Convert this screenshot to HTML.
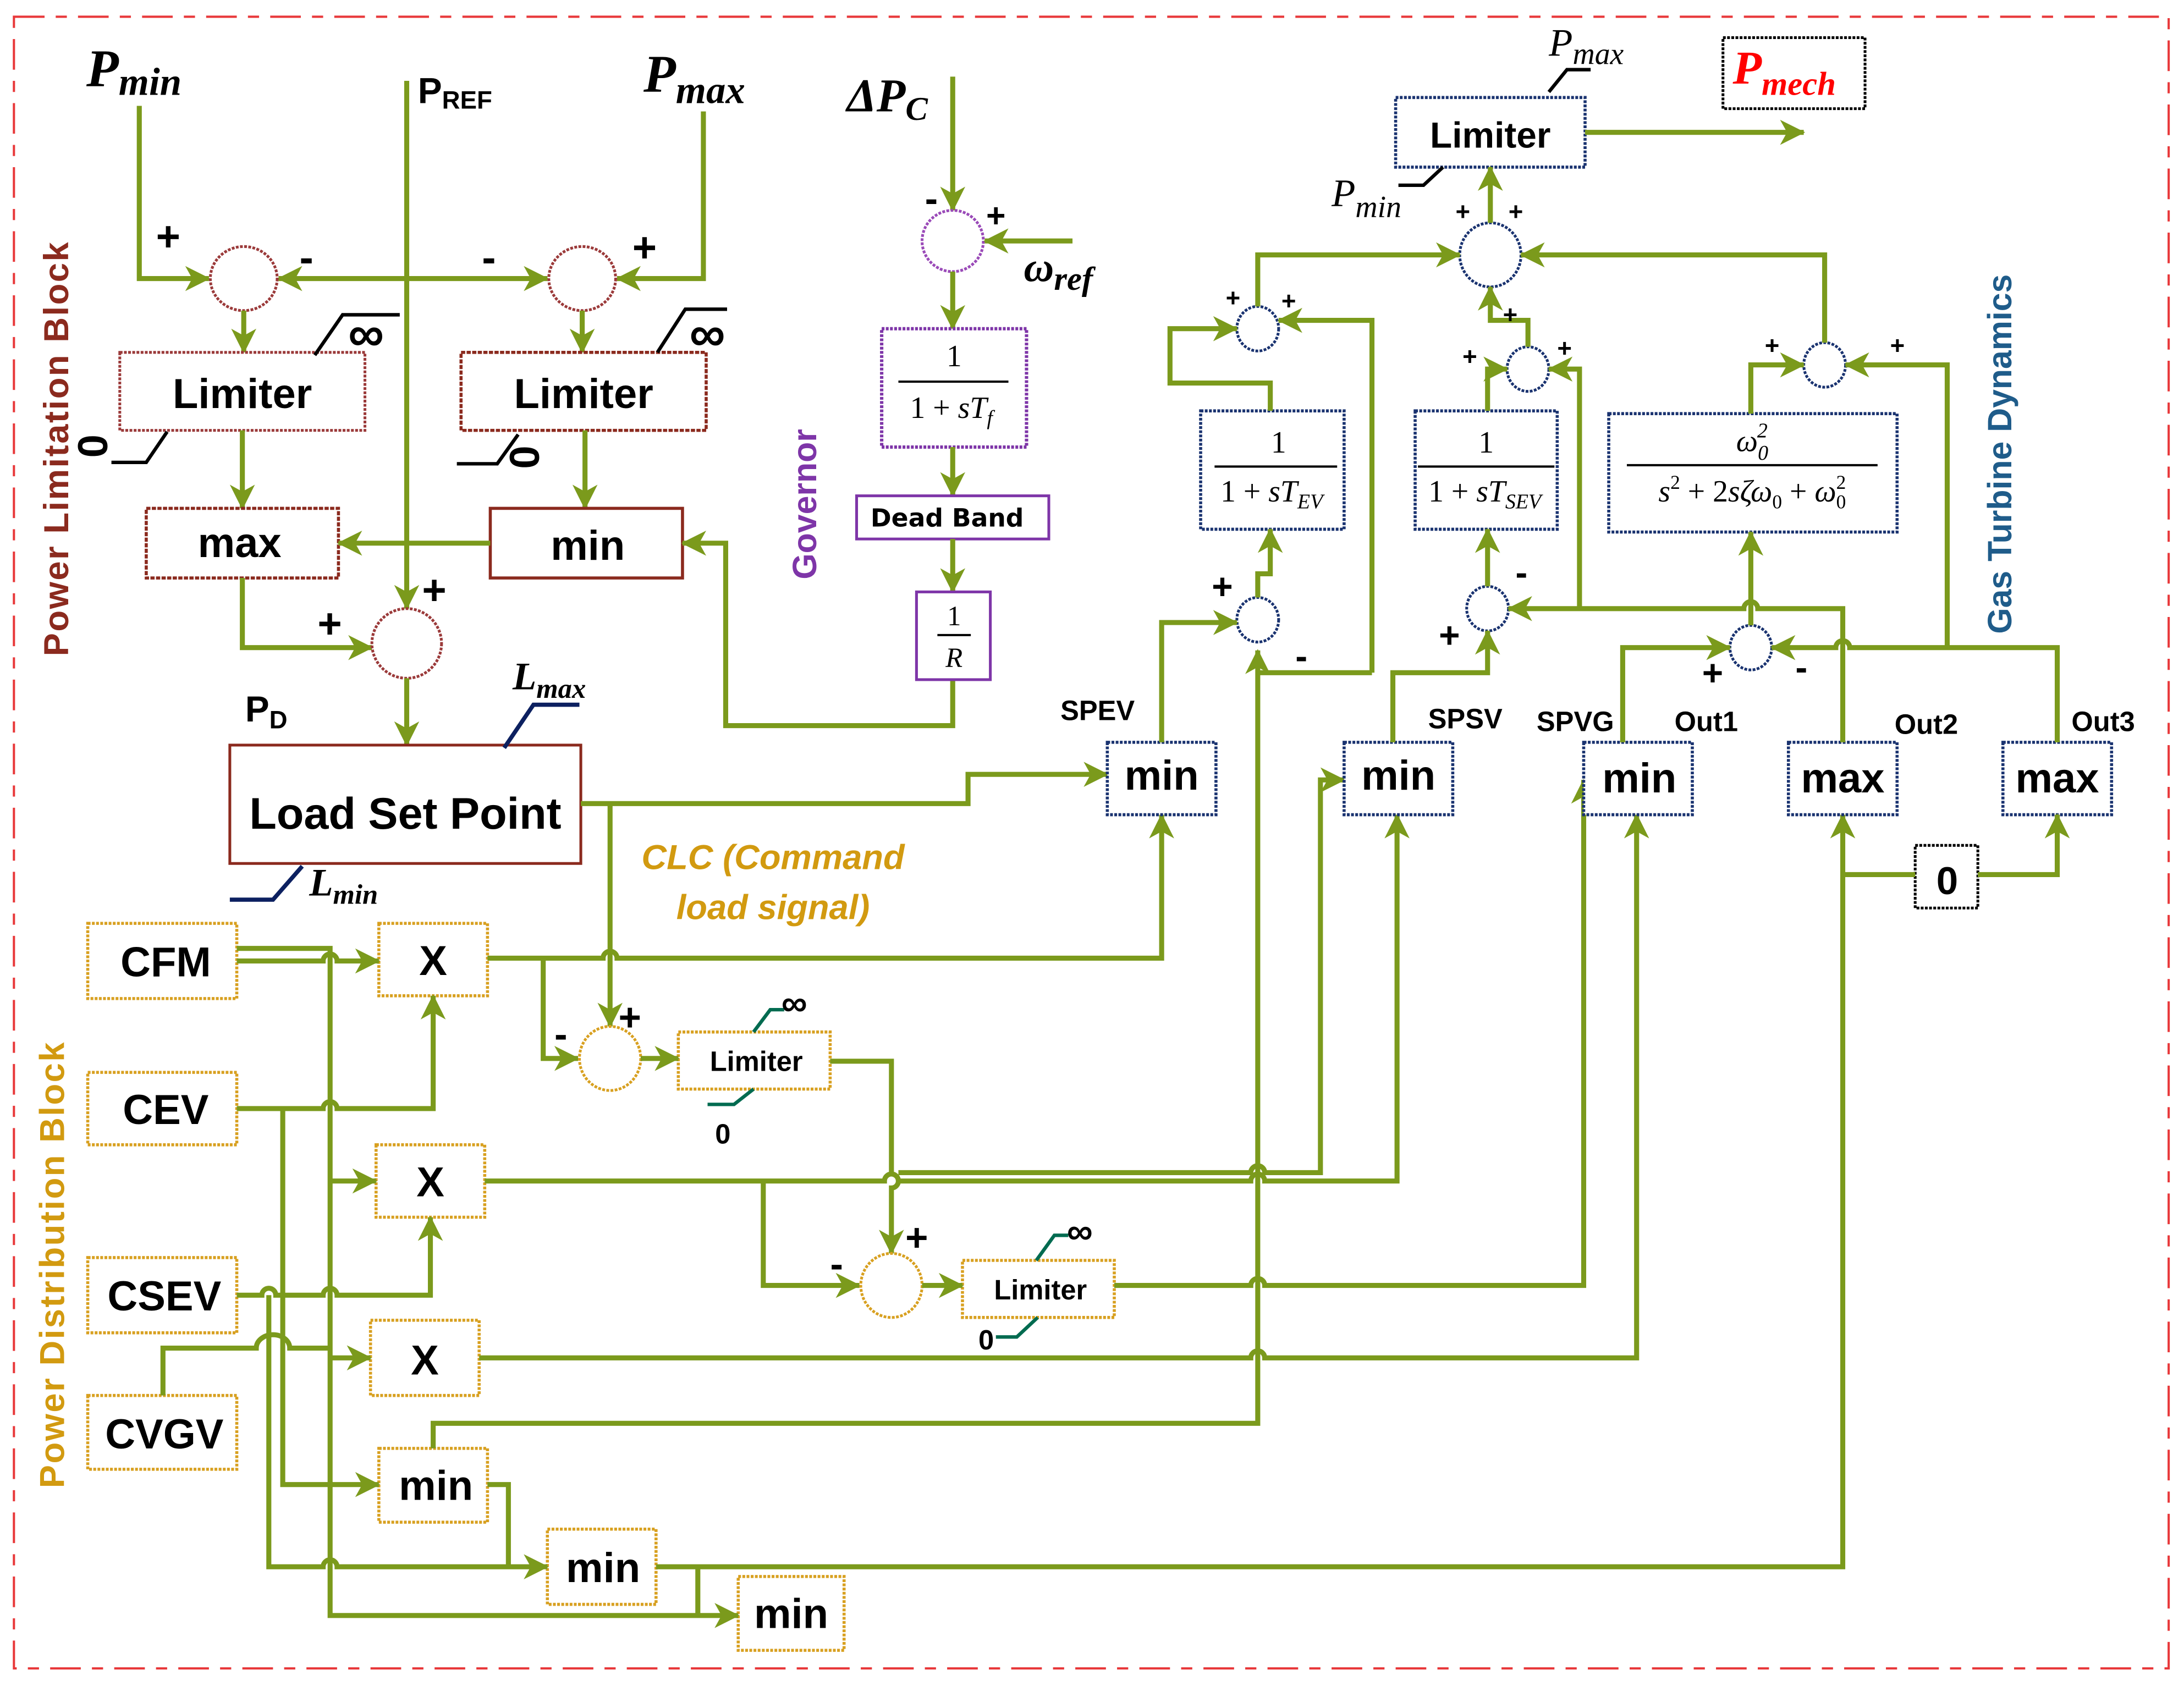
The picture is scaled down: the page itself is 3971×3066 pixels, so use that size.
<!DOCTYPE html>
<html><head><meta charset="utf-8"><style>
html,body{margin:0;padding:0;background:#fff}
svg{display:block}
text{font-family:"Liberation Sans",sans-serif;font-weight:bold;fill:#000}
.s{font-family:"Liberation Serif",serif;font-style:italic;font-weight:bold}
.m{font-family:"Liberation Serif",serif;font-style:italic;font-weight:normal}
.r{font-family:"Liberation Serif",serif;font-weight:normal}
.w{fill:none;stroke:#7b9a1c;stroke-width:3.6;stroke-linejoin:miter}
</style></head><body>
<svg width="3971" height="3066" viewBox="0 0 1568 1210.6" xmlns="http://www.w3.org/2000/svg">
<defs>
<marker id="a" markerUnits="userSpaceOnUse" markerWidth="20" markerHeight="20" refX="17" refY="9" orient="auto">
<path d="M0,0 L18,9 L0,18 L5,9 z" fill="#7b9a1c"/></marker>
</defs>
<rect x="0" y="0" width="1568" height="1211" fill="#fff"/>
<rect x="10" y="12" width="1547" height="1186" fill="none" stroke="#e8383a" stroke-width="1.6" stroke-dasharray="22,8,8,8"/>

<!-- Power limitation -->
<text x="62" y="62" class="s" font-size="38">P<tspan font-size="28" dy="6">min</tspan></text>
<text x="300" y="74" font-size="26">P<tspan font-size="18" dy="4">REF</tspan></text>
<text x="462" y="66" class="s" font-size="38">P<tspan font-size="28" dy="8">max</tspan></text>
<path class="w" d="M100,76 V200 H150" marker-end="url(#a)"/>
<path class="w" d="M505,80 V200 H443" marker-end="url(#a)"/>
<path class="w" d="M292,200 H200" marker-end="url(#a)"/>
<path class="w" d="M292,200 H393" marker-end="url(#a)"/>
<path class="w" d="M292,58 V437" marker-end="url(#a)"/>
<ellipse cx="175" cy="200" rx="24" ry="23" fill="none" stroke="#9b3a3a" stroke-width="2" stroke-dasharray="2,1"/>
<ellipse cx="418" cy="200" rx="24" ry="23" fill="none" stroke="#9b3a3a" stroke-width="2" stroke-dasharray="2,1"/>
<text x="112" y="180" font-size="30">+</text>
<text x="215" y="195" font-size="30">-</text>
<text x="346" y="195" font-size="30">-</text>
<text x="454" y="188" font-size="30">+</text>
<path class="w" d="M175,223 V253" marker-end="url(#a)"/>
<path class="w" d="M418,223 V253" marker-end="url(#a)"/>
<rect x="86" y="253" width="176" height="56" fill="#fff" stroke="#9b3a3a" stroke-width="2" stroke-dasharray="2,1"/>
<rect x="331" y="253" width="176" height="56" fill="#fff" stroke="#8b2a1e" stroke-width="2.2" stroke-dasharray="3,1"/>
<text x="174" y="293" font-size="30" text-anchor="middle">Limiter</text>
<text x="419" y="293" font-size="30" text-anchor="middle">Limiter</text>
<path d="M226,255 L246,226 H287" fill="none" stroke="#000" stroke-width="2.5"/>
<text x="250" y="252" font-size="36">∞</text>
<path d="M472,253 L492,222 H522" fill="none" stroke="#000" stroke-width="2.5"/>
<text x="495" y="252" font-size="36">∞</text>
<text x="0" y="0" font-size="30" transform="translate(56,312) rotate(90)">0</text>
<path d="M80,332 H105 L120,310" fill="none" stroke="#000" stroke-width="2.5"/>
<text x="0" y="0" font-size="30" transform="translate(366,320) rotate(90)">0</text>
<path d="M328,333 H357 L372,312" fill="none" stroke="#000" stroke-width="2.5"/>
<path class="w" d="M174,309 V365" marker-end="url(#a)"/>
<path class="w" d="M420,309 V365" marker-end="url(#a)"/>
<rect x="105" y="365" width="138" height="50" fill="#fff" stroke="#8b2a1e" stroke-width="2.2" stroke-dasharray="3,1"/>
<rect x="352" y="365" width="138" height="50" fill="#fff" stroke="#8b2a1e" stroke-width="2.2"/>
<text x="172" y="400" font-size="30" text-anchor="middle">max</text>
<text x="422" y="402" font-size="30" text-anchor="middle">min</text>
<path class="w" d="M352,390 H243" marker-end="url(#a)"/>
<path class="w" d="M684,488 V521 H521 V390 H490" marker-end="url(#a)"/>
<path class="w" d="M174,415 V465 H267" marker-end="url(#a)"/>
<ellipse cx="292" cy="462" rx="25" ry="25" fill="none" stroke="#9b3a3a" stroke-width="2" stroke-dasharray="2,1"/>
<text x="228" y="458" font-size="30">+</text>
<text x="303" y="434" font-size="30">+</text>
<path class="w" d="M292,487 V535" marker-end="url(#a)"/>
<text x="176" y="518" font-size="26">P<tspan font-size="18" dy="5">D</tspan></text>
<rect x="165" y="535" width="252" height="85" fill="#fff" stroke="#8b2a1e" stroke-width="2"/>
<text x="291" y="595" font-size="32" text-anchor="middle">Load Set Point</text>
<path d="M362,537 L383,506 H416" fill="none" stroke="#0c2060" stroke-width="3"/>
<text x="368" y="495" class="s" font-size="28">L<tspan font-size="20" dy="6">max</tspan></text>
<path d="M165,646 H196 L217,622" fill="none" stroke="#0c2060" stroke-width="3"/>
<text x="222" y="643" class="s" font-size="28">L<tspan font-size="20" dy="6">min</tspan></text>
<text x="0" y="0" font-size="25" fill="#8b2a1e" style="fill:#8b2a1e;letter-spacing:1px" text-anchor="middle" transform="translate(49,322) rotate(-90)">Power Limitation Block</text>

<!-- Governor -->
<text x="608" y="80" class="s" font-size="34">ΔP<tspan font-size="24" dy="6">C</tspan></text>
<path class="w" d="M684,55 V151" marker-end="url(#a)"/>
<ellipse cx="684" cy="173" rx="22" ry="22" fill="none" stroke="#9a4ab8" stroke-width="2" stroke-dasharray="2,1"/>
<text x="664" y="152" font-size="28">-</text>
<text x="708" y="163" font-size="24">+</text>
<path class="w" d="M770,173 H707" marker-end="url(#a)"/>
<text x="735" y="202" class="s" font-size="30">ω<tspan font-size="24" dy="6">ref</tspan></text>
<path class="w" d="M684,195 V236" marker-end="url(#a)"/>
<rect x="633" y="236" width="104" height="85" fill="#fff" stroke="#7e35a8" stroke-width="2.4" stroke-dasharray="2,1"/>
<text x="685" y="263" class="r" font-size="22" text-anchor="middle">1</text>
<line x1="645" y1="274" x2="724" y2="274" stroke="#000" stroke-width="1.6"/>
<text x="683" y="300" class="r" font-size="22" text-anchor="middle">1 + <tspan class="m">sT</tspan><tspan class="m" font-size="15" dy="5">f</tspan></text>
<path class="w" d="M684,321 V356" marker-end="url(#a)"/>
<rect x="615" y="356" width="138" height="31" fill="#fff" stroke="#7e35a8" stroke-width="2"/>
<text x="680" y="378" font-size="18" text-anchor="middle" style="font-family:'DejaVu Sans',sans-serif">Dead Band</text>
<path class="w" d="M684,387 V425" marker-end="url(#a)"/>
<rect x="658" y="425" width="53" height="63" fill="#fff" stroke="#7e35a8" stroke-width="2"/>
<text x="685" y="449" class="r" font-size="20" text-anchor="middle">1</text>
<line x1="673" y1="456" x2="697" y2="456" stroke="#000" stroke-width="1.6"/>
<text x="685" y="479" class="m" font-size="20" text-anchor="middle">R</text>
<text x="0" y="0" font-size="24" style="fill:#7e35a8" text-anchor="middle" transform="translate(586,362) rotate(-90)">Governor</text>

<!-- Load set point to SPEV and CLC -->
<path class="w" d="M417,577 H695 V556 H795" marker-end="url(#a)"/>
<path class="w" d="M438,577 V737" marker-end="url(#a)"/>
<text x="555" y="624" font-size="25" text-anchor="middle" style="fill:#d29a10;font-style:italic">CLC (Command</text>
<text x="555" y="660" font-size="25" text-anchor="middle" style="fill:#d29a10;font-style:italic">load signal)</text>

<!-- Power distribution boxes -->
<g fill="#fff" stroke="#d8a020" stroke-width="2.2" stroke-dasharray="2,1">
<rect x="63" y="663" width="107" height="54"/>
<rect x="63" y="770" width="107" height="52"/>
<rect x="63" y="903" width="107" height="54"/>
<rect x="63" y="1002" width="107" height="53"/>
<rect x="272" y="663" width="78" height="52"/>
<rect x="270" y="822" width="78" height="52"/>
<rect x="266" y="948" width="78" height="54"/>
<rect x="272" y="1040" width="78" height="53"/>
<rect x="393" y="1098" width="78" height="54"/>
<rect x="530" y="1132" width="76" height="53"/>
<rect x="487" y="741" width="109" height="41"/>
<rect x="691" y="905" width="109" height="41"/>
</g>
<g font-size="30" text-anchor="middle">
<text x="119" y="701">CFM</text>
<text x="119" y="807">CEV</text>
<text x="118" y="941">CSEV</text>
<text x="118" y="1040">CVGV</text>
<text x="311" y="700">X</text>
<text x="309" y="859">X</text>
<text x="305" y="987">X</text>
<text x="313" y="1077">min</text>
<text x="433" y="1136">min</text>
<text x="568" y="1169">min</text>
</g>
<text x="543" y="769" font-size="20" text-anchor="middle">Limiter</text>
<text x="747" y="933" font-size="20" text-anchor="middle">Limiter</text>
<text x="0" y="0" font-size="25" style="fill:#d29a10;letter-spacing:1px" text-anchor="middle" transform="translate(46,908) rotate(-90)">Power Distribution Block</text>

<!-- distribution wiring -->
<path class="w" d="M170,681 H237 V1160 H530" marker-end="url(#a)"/>
<path class="w" d="M170,690 H232 a5,5 0 0 1 10,0 H272" marker-end="url(#a)"/>
<path class="w" d="M237,848 H270" marker-end="url(#a)"/>
<path class="w" d="M237,975 H266" marker-end="url(#a)"/>
<path class="w" d="M170,796 H232 a5,5 0 0 1 10,0 H311 V715" marker-end="url(#a)"/>
<path class="w" d="M203,796 V1066 H272" marker-end="url(#a)"/>
<path class="w" d="M170,930 H188 a5,5 0 0 1 10,0 H232 a5,5 0 0 1 10,0 H309 V874" marker-end="url(#a)"/>
<path class="w" d="M193,930 V1125 H232 a5,5 0 0 1 10,0 H393" marker-end="url(#a)"/>
<path class="w" d="M117,1002 V968 H184 a10,8 0 0 1 24,0 H237" />
<path class="w" d="M350,1066 H365 V1125"/>
<path class="w" d="M311,1040 V1022 H903 V467" marker-end="url(#a)"/>
<path class="w" d="M471,1125 H1323 V585" marker-end="url(#a)"/>
<path class="w" d="M501,1125 V1160"/>
<!-- X1 out -->
<path class="w" d="M350,688 H433 a5,5 0 0 1 10,0 H834 V585" marker-end="url(#a)"/>
<path class="w" d="M390,688 V760 H415" marker-end="url(#a)"/>
<ellipse cx="438" cy="760" rx="22" ry="23" fill="none" stroke="#d8a020" stroke-width="2" stroke-dasharray="2,1"/>
<text x="398" y="752" font-size="28">-</text>
<text x="444" y="740" font-size="28">+</text>
<path class="w" d="M460,760 H487" marker-end="url(#a)"/>
<path d="M541,741 L553,725 H563" fill="none" stroke="#006b50" stroke-width="2.5"/>
<text x="561" y="729" font-size="26">∞</text>
<path d="M508,793 H527 L541,782" fill="none" stroke="#006b50" stroke-width="2.5"/>
<text x="519" y="821" font-size="20" text-anchor="middle">0</text>
<path class="w" d="M596,762 H640 V843 a5,5 0 0 1 0,10 V900" marker-end="url(#a)"/>
<!-- X2 out -->
<path class="w" d="M348,848 H635 a5,5 0 0 1 10,0 H898 a5,5 0 0 1 10,0 H1003 V585" marker-end="url(#a)"/>
<path class="w" d="M645,842 H898 a5,5 0 0 1 10,0 H948 V560 H965" marker-end="url(#a)"/>
<path class="w" d="M548,848 V923 H617" marker-end="url(#a)"/>
<ellipse cx="640" cy="923" rx="22" ry="23" fill="none" stroke="#d8a020" stroke-width="2" stroke-dasharray="2,1"/>
<text x="596" y="917" font-size="28">-</text>
<text x="650" y="898" font-size="28">+</text>
<path class="w" d="M662,923 H691" marker-end="url(#a)"/>
<path d="M744,905 L757,887 H767" fill="none" stroke="#006b50" stroke-width="2.5"/>
<text x="766" y="893" font-size="26">∞</text>
<path d="M715,960 H730 L745,946" fill="none" stroke="#006b50" stroke-width="2.5"/>
<text x="708" y="969" font-size="20" text-anchor="middle">0</text>
<path class="w" d="M800,923 H898 a5,5 0 0 1 10,0 H1137 V560" marker-end="url(#a)"/>
<!-- X3 out -->
<path class="w" d="M344,975 H898 a5,5 0 0 1 10,0 H1175 V585" marker-end="url(#a)"/>

<!-- Gas turbine section -->
<g fill="#fff" stroke="#1a3370" stroke-width="2.2" stroke-dasharray="2,1">
<rect x="795" y="533" width="78" height="52"/>
<rect x="965" y="533" width="78" height="52"/>
<rect x="1137" y="533" width="78" height="52"/>
<rect x="1284" y="533" width="78" height="52"/>
<rect x="1438" y="533" width="78" height="52"/>
<rect x="1002" y="70" width="136" height="50"/>
<rect x="862" y="295" width="103" height="85"/>
<rect x="1016" y="295" width="102" height="85"/>
<rect x="1155" y="297" width="207" height="85"/>
</g>
<rect x="1375" y="607" width="45" height="45" fill="#fff" stroke="#000" stroke-width="2" stroke-dasharray="2,1"/>
<text x="1398" y="642" font-size="28" text-anchor="middle">0</text>
<g font-size="30" text-anchor="middle">
<text x="834" y="567">min</text>
<text x="1004" y="567">min</text>
<text x="1177" y="569">min</text>
<text x="1323" y="569">max</text>
<text x="1477" y="569">max</text>
</g>
<text x="1070" y="106" font-size="26" text-anchor="middle">Limiter</text>
<g font-size="20" text-anchor="middle">
<text x="788" y="517">SPEV</text>
<text x="1052" y="523">SPSV</text>
<text x="1131" y="525">SPVG</text>
<text x="1225" y="525">Out1</text>
<text x="1383" y="527">Out2</text>
<text x="1510" y="525">Out3</text>
</g>
<text x="1112" y="40" class="m" font-size="28">P<tspan font-size="22" dy="6">max</tspan></text>
<path d="M1112,66 L1125,50 H1142" fill="none" stroke="#000" stroke-width="2.5"/>
<text x="956" y="148" class="m" font-size="28">P<tspan font-size="22" dy="8">min</tspan></text>
<path d="M1004,133 H1022 L1036,120" fill="none" stroke="#000" stroke-width="2.5"/>
<rect x="1237" y="27" width="102" height="51" fill="#fff" stroke="#000" stroke-width="2" stroke-dasharray="2,1"/>
<text x="1244" y="60" class="s" font-size="34" style="fill:#ff0000">P<tspan font-size="24" dy="8" style="fill:#ff0000">mech</tspan></text>
<path class="w" d="M1138,95 H1295" marker-end="url(#a)"/>
<!-- sums -->
<g fill="none" stroke="#1a3370" stroke-width="2" stroke-dasharray="2,1">
<ellipse cx="1070" cy="183" rx="22" ry="23"/>
<ellipse cx="903" cy="236" rx="15" ry="16"/>
<ellipse cx="1097" cy="265" rx="15" ry="16"/>
<ellipse cx="1310" cy="262" rx="15" ry="16"/>
<ellipse cx="903" cy="445" rx="15" ry="16"/>
<ellipse cx="1068" cy="437" rx="15" ry="16"/>
<ellipse cx="1257" cy="465" rx="15" ry="16"/>
</g>
<path class="w" d="M1070,160 V120" marker-end="url(#a)"/>
<text x="1045" y="158" font-size="18">+</text>
<text x="1083" y="158" font-size="18">+</text>
<path class="w" d="M903,220 V183 H1048" marker-end="url(#a)"/>
<path class="w" d="M1310,246 V183 H1092" marker-end="url(#a)"/>
<path class="w" d="M1097,249 V230 H1070 V206" marker-end="url(#a)"/>
<text x="1079" y="232" font-size="18">+</text>
<text x="880" y="220" font-size="18">+</text>
<text x="920" y="222" font-size="18">+</text>
<path class="w" d="M912,295 V275 H840 V236 H888" marker-end="url(#a)"/>
<path class="w" d="M985,483 V230 H918" marker-end="url(#a)"/>
<text x="918" y="325" class="r" font-size="22" text-anchor="middle">1</text>
<line x1="872" y1="335" x2="960" y2="335" stroke="#000" stroke-width="1.6"/>
<text x="913" y="360" class="r" font-size="22" text-anchor="middle">1 + <tspan class="m">sT</tspan><tspan class="m" font-size="15" dy="5">EV</tspan></text>
<text x="1067" y="325" class="r" font-size="22" text-anchor="middle">1</text>
<line x1="1018" y1="335" x2="1116" y2="335" stroke="#000" stroke-width="1.6"/>
<text x="1066" y="360" class="r" font-size="22" text-anchor="middle">1 + <tspan class="m">sT</tspan><tspan class="m" font-size="15" dy="5">SEV</tspan></text>
<text x="1258" y="324" class="m" font-size="22" text-anchor="middle">ω<tspan font-size="15" dy="6">0</tspan><tspan font-size="15" dx="-8" dy="-16">2</tspan></text>
<line x1="1168" y1="334" x2="1348" y2="334" stroke="#000" stroke-width="1.6"/>
<text x="1258" y="360" class="r" font-size="22" text-anchor="middle"><tspan class="m">s</tspan><tspan font-size="14" dy="-9">2</tspan><tspan dy="9"> + 2</tspan><tspan class="m">sζω</tspan><tspan font-size="14" dy="5">0</tspan><tspan dy="-5"> + </tspan><tspan class="m">ω</tspan><tspan font-size="14" dy="5">0</tspan><tspan font-size="14" dx="-7" dy="-14">2</tspan></text>
<path class="w" d="M1068,295 V265 H1082" marker-end="url(#a)"/>
<path class="w" d="M1134,437 V265 H1112" marker-end="url(#a)"/>
<text x="1050" y="262" font-size="18">+</text>
<text x="1118" y="256" font-size="18">+</text>
<path class="w" d="M1257,297 V262 H1295" marker-end="url(#a)"/>
<path class="w" d="M1398,465 V262 H1325" marker-end="url(#a)"/>
<text x="1267" y="254" font-size="18">+</text>
<text x="1357" y="254" font-size="18">+</text>
<text x="1428" y="310" font-size="24" style="fill:#1f5c8a" text-anchor="middle" transform="rotate(-90 1444 310)">Gas Turbine Dynamics</text>
<!-- EV lower sum -->
<path class="w" d="M903,429 V412 H912 V380" marker-end="url(#a)"/>
<path class="w" d="M834,533 V447 H888" marker-end="url(#a)"/>
<path class="w" d="M985,483 H903"/>
<text x="870" y="430" font-size="26">+</text>
<text x="930" y="480" font-size="26">-</text>
<!-- SEV lower sum -->
<path class="w" d="M1068,421 V380" marker-end="url(#a)"/>
<path class="w" d="M1000,533 V483 H1068 V453" marker-end="url(#a)"/>
<path class="w" d="M1323,533 V437 H1262 a5,5 0 0 0 -10,0 H1083" marker-end="url(#a)"/>
<text x="1033" y="465" font-size="26">+</text>
<text x="1088" y="420" font-size="26">-</text>
<!-- GT lower sum -->
<path class="w" d="M1257,449 V382" marker-end="url(#a)"/>
<path class="w" d="M1165,533 V465 H1242" marker-end="url(#a)"/>
<path class="w" d="M1477,533 V465 H1328 a5,5 0 0 0 -10,0 H1272" marker-end="url(#a)"/>
<text x="1222" y="492" font-size="26">+</text>
<text x="1289" y="488" font-size="26">-</text>
<!-- 0 to max -->
<path class="w" d="M1323,628 H1375"/>
<path class="w" d="M1420,628 H1477 V585" marker-end="url(#a)"/>
</svg>
</body></html>
